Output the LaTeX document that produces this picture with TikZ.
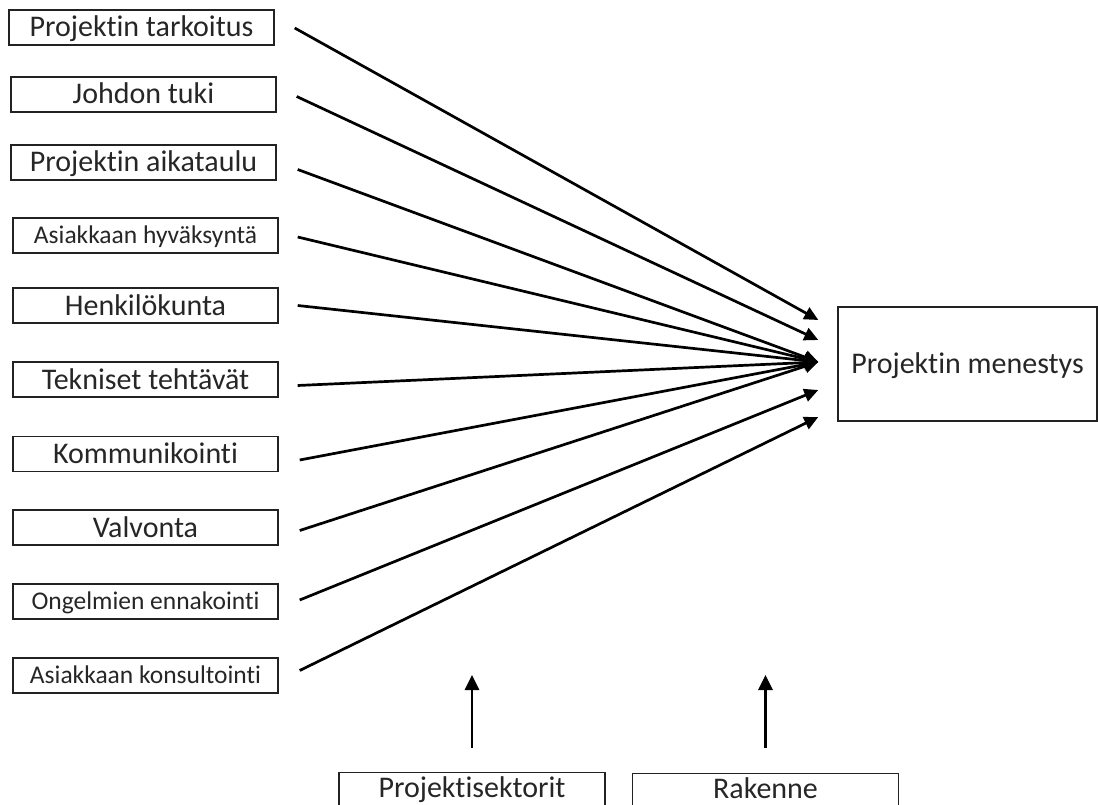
\documentclass[tikz,border=0pt]{standalone}
\usepackage{fontspec}
\setmainfont{Carlito}[Ligatures=NoCommon]
\usetikzlibrary{arrows.meta}
\definecolor{ink}{HTML}{262626}
\definecolor{boxline}{HTML}{222222}
\begin{document}
\begin{tikzpicture}[x=1pt,y=-1pt,
  factor/.style={draw=boxline, line width=1.4pt, minimum width=265pt, minimum height=35pt,
    inner sep=0pt, text=ink, text height=19pt, text depth=0pt,
    font=\fontsize{30}{35}\selectfont},
  smallfactor/.style={factor, text height=16.5pt, font=\fontsize{25.5}{30}\selectfont},
  outcome/.style={draw=boxline, line width=1.4pt, minimum width=259pt, minimum height=114pt,
    inner sep=0pt, text=ink, text height=19pt, text depth=0pt,
    font=\fontsize{30}{35}\selectfont},
  context/.style={draw=boxline, line width=1.4pt, minimum width=266pt, anchor=north,
    inner xsep=0pt, inner ysep=6pt, text=ink, text height=19pt, text depth=40pt,
    font=\fontsize{30}{35}\selectfont},
  arr/.style={draw=black, line width=2.7pt, -{Triangle[length=14pt,width=13pt]}},
  uparr/.style={draw=black, line width=2.7pt, -{Triangle[length=15pt,width=14pt]}}
]
\useasboundingbox (0,0) rectangle (1098,805);
\clip (0,0) rectangle (1098,805);

% success factors
\node[factor]      (f1)  at (141.5,27.5)  {Projektin tarkoitus};
\node[factor]      (f2)  at (143.5,94.5)  {Johdon tuki};
\node[factor]      (f3)  at (143.5,162.5) {Projektin aikataulu};
\node[smallfactor] (f4)  at (145.5,235.5) {Asiakkaan hyväksyntä};
\node[factor]      (f5)  at (145.5,305.5) {Henkilökunta};
\node[factor]      (f6)  at (145.5,379.5) {Tekniset tehtävät};
\node[factor]      (f7)  at (145.5,454)   {Kommunikointi};
\node[factor]      (f8)  at (145.5,527.5) {Valvonta};
\node[smallfactor] (f9)  at (145.5,601.5) {Ongelmien ennakointi};
\node[smallfactor] (f10) at (145.5,675.5) {Asiakkaan konsultointi};

% outcome
\node[outcome] (pm) at (967.5,364) {Projektin menestys};

% context boxes at the bottom
\node[context] (ps) at (472,772)   {Projektisektorit};
\node[context] (rk) at (765.5,773) {Rakenne};

% arrow tips in front of the outcome box
\coordinate (t1) at ([xshift=-19pt,yshift=44pt]pm.west);
\coordinate (t2) at ([xshift=-19pt,yshift=24pt]pm.west);
\coordinate (tc) at ([xshift=-19pt,yshift=2pt]pm.west);
\coordinate (t9) at ([xshift=-19pt,yshift=-26pt]pm.west);
\coordinate (t10) at ([xshift=-19pt,yshift=-53pt]pm.west);

\draw[arr] ([xshift=20pt,yshift=-0.5pt]f1.east) -- (t1);
\draw[arr] ([xshift=20pt,yshift=-2pt]f2.east) -- (t2);
\draw[arr] ([xshift=21pt,yshift=-7pt]f3.east) -- (tc);
\draw[arr] ([xshift=19pt,yshift=-1.5pt]f4.east) -- (tc);
\draw[arr] ([xshift=19pt]f5.east) -- (tc);
\draw[arr] ([xshift=19pt,yshift=-6pt]f6.east) -- (tc);
\draw[arr] ([xshift=21pt,yshift=-6pt]f7.east) -- (tc);
\draw[arr] ([xshift=21pt,yshift=-3pt]f8.east) -- (tc);
\draw[arr] ([xshift=21pt,yshift=1.5pt]f9.east) -- (t9);
\draw[arr] ([xshift=21pt,yshift=5pt]f10.east) -- (t10);

% influences from below
\draw[uparr] ([yshift=24pt]ps.north) -- ([yshift=97pt]ps.north);
\draw[uparr] ([yshift=25pt]rk.north) -- ([yshift=98pt]rk.north);
\end{tikzpicture}
\end{document}
